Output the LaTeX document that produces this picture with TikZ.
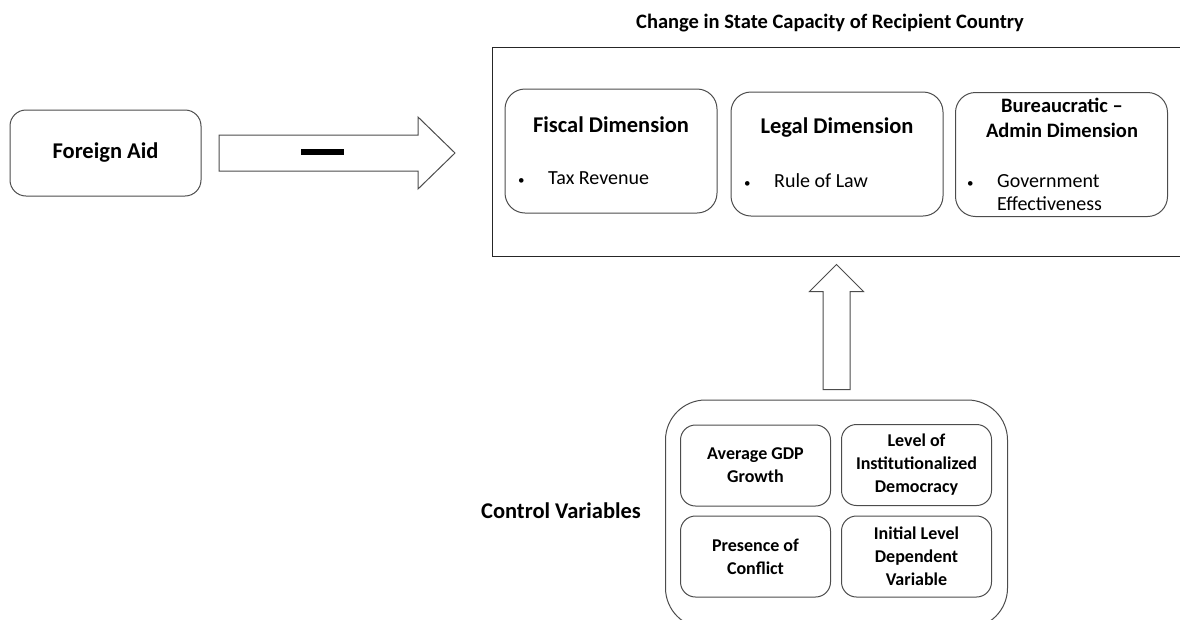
\documentclass[tikz,border=0pt]{standalone}
\usepackage{fontspec}
\setmainfont{Carlito}
\tikzset{
  outline/.style={draw=black!70, line width=1pt},
  aidbox/.style={outline, rounded corners=16pt, minimum width=191pt, minimum height=86pt, font=\fontsize{22.5}{27}\selectfont\bfseries},
  dimbox/.style={outline, rounded corners=20pt, minimum width=212pt, minimum height=124pt},
  dimtitle/.style={align=center, inner sep=0pt, font=\fontsize{22.5}{27}\selectfont\bfseries},
  dimitem/.style={anchor=west, inner sep=0pt, font=\fontsize{20}{23}\selectfont},
  ctrlbox/.style={outline, rounded corners=15pt, minimum width=150pt, minimum height=81pt, align=center, font=\fontsize{18}{23}\selectfont\bfseries},
}
\newcommand{\dimbullet}[1]{\begin{tabular}{@{}p{30pt}@{}l@{}}{\fontsize{13}{13}\selectfont\textbullet} & #1\end{tabular}}
\begin{document}
\begin{tikzpicture}[x=1pt,y=-1pt]
\useasboundingbox (0,0) rectangle (1180,619);
% aid and its effect
\node[aidbox] (aid) at (105.5,153) {Foreign Aid};
% state capacity
\node[font=\fontsize{20.5}{25}\selectfont\bfseries] (statetitle) at (830,23) {Change in State Capacity of Recipient Country};
\node[draw=black!85, line width=0.9pt, anchor=north west, minimum width=700pt, minimum height=209pt] (state) at (492,47) {};
\node[dimbox] (fiscal) at (611,151) {};
\node[dimbox] (legal) at (837,154) {};
\node[dimbox] (bureau) at (1061.5,154.5) {};
\node[dimtitle] (fiscaltitle) at (611,125) {Fiscal Dimension};
\node[dimtitle] (legaltitle) at (837,128) {Legal Dimension};
\node[dimtitle, font=\fontsize{20.5}{25}\selectfont\bfseries] (bureautitle) at (1062,117.5) {Bureaucratic –\\Admin Dimension};
\node[dimitem] (taxrev) at (518,180) {\dimbullet{Tax Revenue}};
\node[dimitem] (lawrule) at (744,183) {\dimbullet{Rule of Law}};
\node[dimitem, anchor=north west] (goveff) at (967,171) {\dimbullet{Government\\ & Effectiveness}};
% arrow from aid, with the minus sign
\coordinate (aidtip) at ([xshift=-37pt]state.west |- aid.east);
\draw[outline] (aidtip) -- ++(-37,-36) -- ++(0,18) -- ++(-199,0) -- ++(0,36) -- ++(199,0) -- ++(0,18) -- cycle;
\node[fill=black, minimum width=43pt, minimum height=6pt, inner sep=0pt] (minus) at (322.5,151.5) {};
% control variables
\node[outline, rounded corners=40pt, minimum width=342pt, minimum height=228pt] (ctrl) at (836.5,514) {};
\coordinate (ctrltail) at ([yshift=10pt]ctrl.north);
\draw[outline] (ctrltail) -- ++(-13.5,0) -- ++(0,-98) -- ++(-13.5,0) -- ++(27,-27) -- ++(27,27) -- ++(-13.5,0) -- ++(0,98) -- cycle;
\node[font=\fontsize{22.5}{27}\selectfont\bfseries] (ctrllabel) at (561,511) {Control Variables};
\node[ctrlbox] (gdp) at (755.5,465.5) {Average GDP\\Growth};
\node[ctrlbox] (democ) at (916.5,465) {Level of\\Institutionalized\\Democracy};
\node[ctrlbox] (conflict) at (755.5,556.5) {Presence of\\Conflict};
\node[ctrlbox] (initial) at (916.5,556.5) {Initial Level\\Dependent\\Variable};
\end{tikzpicture}
\end{document}
